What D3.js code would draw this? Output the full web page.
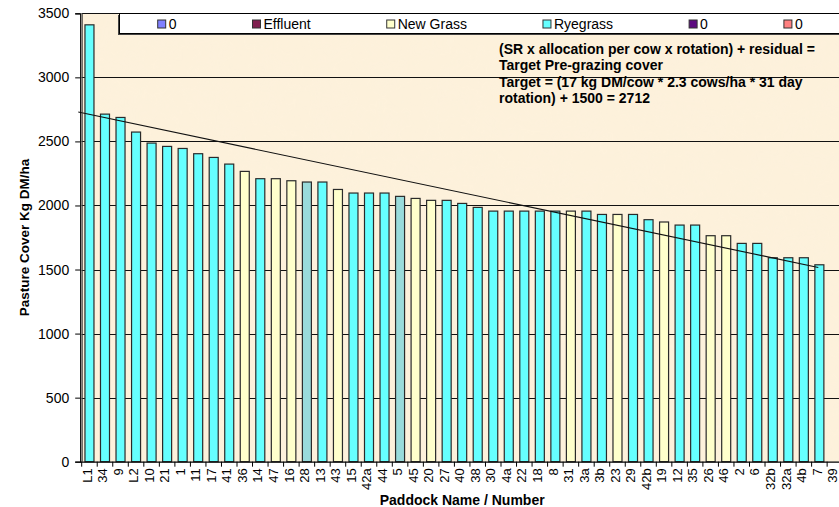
<!DOCTYPE html>
<html><head><meta charset="utf-8">
<script src="https://cdn.jsdelivr.net/npm/d3@7"></script>
<style>
body{margin:0;background:#fff}
text{font-family:Arial,"Liberation Sans",sans-serif}
</style>
</head><body>
<svg id="c" width="839" height="507"></svg>
<script>
// ---- data ----
const categories = ["L1","34","9","L2","10","21","1","11","17","41","36","14","47","16","28","13","43","15","42a","44","5","45","20","27","40","38","30","4a","22","18","8","31","3a","3b","23","29","42b","19","12","35","26","46","2","6","32b","32a","4b","7","39"];
const values = [3410,2713,2687,2573,2487,2461,2445,2404,2375,2323,2266,2209,2209,2193,2183,2183,2125,2097,2097,2097,2071,2055,2040,2040,2016,1985,1956,1956,1956,1956,1956,1956,1956,1930,1930,1930,1889,1871,1847,1847,1764,1764,1704,1704,1592,1592,1592,1537,0];
const types = ["R","R","R","R","R","R","R","R","R","R","N","R","N","N","T","R","N","R","R","R","T","N","N","R","R","R","R","R","R","R","R","N","R","R","N","R","R","N","R","R","N","N","R","R","R","R","R","R","R"];
const typeColors = {R:"#66FFFF", N:"#FFFFCC", T:"#99DBDB"};
const legendNames = ["0","Effluent","New Grass","Ryegrass","0","0"];
const legendColors = ["#8080FF","#802050","#FFFFCC","#66FFFF","#5C0A80","#FF8080"];
const yTicks = [0,500,1000,1500,2000,2500,3000,3500];
const trendPos = [-0.22, 47.43];   // in category units
const trendVals = [2729, 1516];
const noteLines = [
  "(SR x allocation per cow x rotation) + residual =",
  "Target Pre-grazing cover",
  "Target = (17 kg DM/cow * 2.3 cows/ha * 31 day",
  "rotation) + 1500 = 2712"
];
const yTitle = "Pasture Cover Kg DM/ha";
const xTitle = "Paddock Name / Number";

// ---- layout ----
const svg = d3.select("#c");
const X0 = 81.7, STEP = 15.53, X1 = X0 + categories.length * STEP;
const Y0 = 461.7, Y1 = 13.3;

const x = d3.scaleBand().domain(categories).range([X0, X1]).paddingInner(0.42).paddingOuter(0.21);
const xi = d3.scaleLinear().domain([0, categories.length]).range([X0, X1]);
const y = d3.scaleLinear().domain([0, 3500]).range([Y0, Y1]);

// plot background with subtle texture
const defs = svg.append("defs");
const f = defs.append("filter").attr("id","tex").attr("x",0).attr("y",0).attr("width","100%").attr("height","100%");
f.append("feTurbulence").attr("type","fractalNoise").attr("baseFrequency","0.035").attr("numOctaves",3).attr("seed",4).attr("result","n");
f.append("feColorMatrix").attr("in","n").attr("type","matrix")
  .attr("values","0 0 0 0 0.95  0 0 0 0 0.89  0 0 0 0 0.78  0 0 0 0.35 -0.05");
svg.append("rect").attr("x",X0).attr("y",Y1).attr("width",X1-X0).attr("height",Y0-Y1).attr("fill","#FDF1DB");
svg.append("rect").attr("x",X0).attr("y",Y1).attr("width",X1-X0).attr("height",Y0-Y1).attr("filter","url(#tex)").attr("opacity",0.3);

// gridlines
svg.append("g").selectAll("line").data(yTicks.filter(d=>d>0)).join("line")
  .attr("x1",X0).attr("x2",X1).attr("y1",d=>Math.round(y(d))+0.5).attr("y2",d=>Math.round(y(d))+0.5)
  .attr("stroke","#111").attr("stroke-width",1);

// bars
svg.append("g").selectAll("rect").data(values).join("rect")
  .attr("x",(d,i)=>x(categories[i]))
  .attr("width",x.bandwidth())
  .attr("y",d=>y(d))
  .attr("height",d=>Y0-y(d))
  .attr("fill",(d,i)=>typeColors[types[i]])
  .attr("stroke",(d)=>d>0?"#2a2a2a":"none").attr("stroke-width",1.2);

// trend line
svg.append("line")
  .attr("x1",xi(trendPos[0])).attr("y1",y(trendVals[0]))
  .attr("x2",xi(trendPos[1])).attr("y2",y(trendVals[1]))
  .attr("stroke","#111").attr("stroke-width",1.1);

// y axis
const ya = svg.append("g").attr("transform",`translate(${X0-1.5},0)`)
  .call(d3.axisLeft(y).tickValues(yTicks).tickSize(5).tickPadding(6).tickFormat(d3.format("d")));
ya.select(".domain").attr("stroke","#000").attr("stroke-width",1.2);
ya.selectAll(".tick line").attr("stroke","#000");
ya.selectAll("text").style("font-size","14px").attr("fill","#000").attr("font-family","Arial, Liberation Sans, sans-serif");
svg.append("line").attr("x1",X0+0.5).attr("x2",X0+0.5).attr("y1",Y1).attr("y2",Y0).attr("stroke","#333").attr("stroke-width",1);

// x axis
svg.append("line").attr("x1",X0-1.5).attr("x2",X1).attr("y1",Y0+0.5).attr("y2",Y0+0.5).attr("stroke","#000").attr("stroke-width",1.2);
svg.append("g").selectAll("line").data(d3.range(categories.length+1)).join("line")
  .attr("x1",d=>xi(d)).attr("x2",d=>xi(d)).attr("y1",Y0).attr("y2",Y0+5).attr("stroke","#000");
svg.append("g").selectAll("text").data(categories).join("text")
  .attr("transform",d=>`translate(${x(d)+x.bandwidth()/2-2.5},${Y0+6.5}) rotate(-90)`)
  .attr("text-anchor","end").attr("dy","0.36em")
  .style("font-size","13px").attr("fill","#000").text(d=>d);

// axis titles
svg.append("text").attr("x",(X0+X1)/2).attr("y",505).attr("text-anchor","middle")
  .style("font-size","14px").style("font-weight","bold").text(xTitle);
svg.append("text").attr("transform",`translate(29,${(Y0+Y1)/2}) rotate(-90)`).attr("text-anchor","middle")
  .style("font-size","13.5px").style("font-weight","bold").text(yTitle);

// annotation
svg.append("g").selectAll("text").data(noteLines).join("text")
  .attr("x",499).attr("y",(d,i)=>53.5+i*16.5)
  .style("font-size","14px").style("font-weight","bold").attr("fill","#000").text(d=>d);

// legend
const lg = svg.append("g");
lg.append("rect").attr("x",118).attr("y",15).attr("width",740).attr("height",20).attr("fill","#444");
lg.append("rect").attr("x",119.5).attr("y",13.5).attr("width",740).attr("height",20).attr("fill","#fff").attr("stroke","#000").attr("stroke-width",1);
let lx = 157.7;
legendNames.forEach((n,i)=>{
  lg.append("rect").attr("x",lx).attr("y",20).attr("width",8).attr("height",8)
    .attr("fill",legendColors[i]).attr("stroke","#333").attr("stroke-width",1);
  const t = lg.append("text").attr("x",lx+11).attr("y",29).style("font-size","14px").attr("fill","#000").text(n);
  lx += 11 + t.node().getComputedTextLength() + 76;
});
</script>
</body></html>
